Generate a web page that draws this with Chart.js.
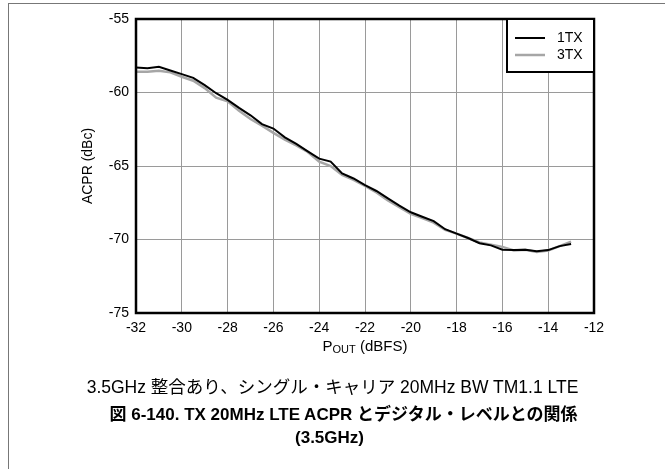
<!DOCTYPE html>
<html>
<head>
<meta charset="utf-8">
<script src="https://cdn.jsdelivr.net/npm/chart.js@4.4.1/dist/chart.umd.min.js"></script>
<style>
  html, body { margin: 0; padding: 0; background: #fff; }
  #wrap { position: relative; width: 665px; height: 469px; overflow: hidden; }
  #frame { position: absolute; left: 8px; top: 3px; width: 670px; height: 480px; border-left: 1.5px solid #777; border-top: 1.5px solid #777; }
  canvas { position: absolute; left: 0; top: 0; }
  .cap { position: absolute; left: 0; width: 665px; text-align: center; font-family: "Liberation Sans", Arial, "Noto Sans CJK JP", sans-serif; color: #000; }
  #c1 { top: 373px; font-size: 17.5px; }
  #c2 { top: 403px; left: 11px; font-size: 17px; font-weight: bold; line-height: 23px; }
  #c3 { top: 426px; left: -3px; font-size: 17px; font-weight: bold; line-height: 23px; }
</style>
</head>
<body>
<div id="wrap">
  <div id="frame"></div>
  <canvas id="cv" width="665" height="469"></canvas>
  <div class="cap" id="c1">3.5GHz 整合あり、シングル・キャリア 20MHz BW TM1.1 LTE</div>
  <div class="cap" id="c2">図 6-140. TX 20MHz LTE ACPR とデジタル・レベルとの関係</div>
  <div class="cap" id="c3">(3.5GHz)</div>
</div>
<script>
// P_OUT (dBFS) em passos de 0,5
const pout = [-32, -31.5, -31, -30.5, -30, -29.5, -29, -28.5, -28, -27.5, -27, -26.5, -26, -25.5, -25, -24.5, -24, -23.5, -23, -22.5,
  -22, -21.5, -21, -20.5, -20, -19.5, -19, -18.5, -18, -17.5, -17, -16.5, -16, -15.5, -15, -14.5, -14, -13.5, -13];
const acpr1tx = [-58.3, -58.35, -58.25, -58.5, -58.75, -59.0, -59.5, -60.05, -60.5, -61.05, -61.55, -62.15, -62.45, -63.05, -63.5, -64.0, -64.5, -64.7, -65.5, -65.85,
  -66.3, -66.7, -67.2, -67.7, -68.15, -68.45, -68.75, -69.3, -69.6, -69.9, -70.25, -70.4, -70.7, -70.72, -70.7, -70.8, -70.72, -70.45, -70.3];
const acpr3tx = [-58.58, -58.58, -58.52, -58.63, -58.93, -59.2, -59.7, -60.35, -60.6, -61.25, -61.8, -62.25, -62.75, -63.2, -63.6, -64.05, -64.7, -65.0, -65.6, -65.95,
  -66.35, -66.8, -67.35, -67.8, -68.25, -68.55, -68.85, -69.35, -69.6, -69.9, -70.2, -70.35, -70.5, -70.75, -70.7, -70.85, -70.75, -70.45, -70.15];
const serieNomes = ["1TX", "3TX"];
const xTicks = [-32, -30, -28, -26, -24, -22, -20, -18, -16, -14, -12];
const yTicks = [-75, -70, -65, -60, -55];

const FONTE = '"Liberation Sans", Arial, sans-serif';
const pts = (ys) => pout.map((x, i) => ({ x, y: ys[i] }));

// moldura, legenda e títulos dos eixos
const extras = {
  id: "extras",
  afterDraw(chart) {
    const { ctx, chartArea: a } = chart;
    ctx.save();
    ctx.strokeStyle = "#000";
    ctx.lineWidth = 2.5;
    ctx.strokeRect(a.left, a.top, a.right - a.left, a.bottom - a.top);

    // legenda
    const lw = 87, lh = 53, lx = a.right - lw, ly = a.top;
    ctx.fillStyle = "#fff";
    ctx.fillRect(lx, ly, lw, lh);
    ctx.lineWidth = 2;
    ctx.strokeRect(lx, ly, lw, lh);
    ctx.font = "14px " + FONTE;
    ctx.textBaseline = "middle";
    chart.data.datasets.forEach((ds, i) => {
      const yy = ly + 19 + i * 17;
      ctx.strokeStyle = ds.borderColor;
      ctx.lineWidth = ds.borderWidth;
      ctx.beginPath(); ctx.moveTo(lx + 8, yy); ctx.lineTo(lx + 38, yy); ctx.stroke();
      ctx.fillStyle = "#000";
      ctx.fillText(ds.label, lx + 50, yy);
    });

    // título eixo y
    ctx.fillStyle = "#000";
    ctx.font = "14px " + FONTE;
    ctx.textAlign = "center";
    ctx.save();
    ctx.translate(88, (a.top + a.bottom) / 2);
    ctx.rotate(-Math.PI / 2);
    ctx.fillText("ACPR (dBc)", 0, 0);
    ctx.restore();

    // título eixo x com subscrito
    const cx = (a.left + a.right) / 2, cy = 347;
    ctx.textAlign = "left";
    const p = "P", sub = "OUT", rest = " (dBFS)";
    ctx.font = "15px " + FONTE;
    const wp = ctx.measureText(p).width, wr = ctx.measureText(rest).width;
    ctx.font = "11px " + FONTE;
    const ws = ctx.measureText(sub).width;
    let x0 = cx - (wp + ws + wr) / 2;
    ctx.font = "15px " + FONTE;
    ctx.fillText(p, x0, cy);
    ctx.font = "11px " + FONTE;
    ctx.fillText(sub, x0 + wp, cy + 3);
    ctx.font = "15px " + FONTE;
    ctx.fillText(rest, x0 + wp + ws, cy);
    ctx.restore();
  },
};

new Chart(document.getElementById("cv"), {
  type: "line",
  data: {
    datasets: [
      { label: serieNomes[0], data: pts(acpr1tx), borderColor: "#000", borderWidth: 2, pointRadius: 0, tension: 0, order: 1 },
      { label: serieNomes[1], data: pts(acpr3tx), borderColor: "#a6a6a6", borderWidth: 2.5, pointRadius: 0, tension: 0, order: 2 },
    ],
  },
  options: {
    responsive: false, animation: false,
    layout: { padding: { left: 0, right: 71, top: 19, bottom: 0 } },
    plugins: { legend: { display: false }, tooltip: { enabled: false } },
    scales: {
      x: {
        type: "linear", min: -32, max: -12,
        afterBuildTicks: (s) => { s.ticks = xTicks.map((v) => ({ value: v })); },
        afterFit: (s) => { s.height = 156; },
        grid: { color: "#9a9a9a", lineWidth: 1, drawTicks: false },
        border: { display: false },
        ticks: { color: "#000", font: { size: 14, family: FONTE }, padding: 7, maxRotation: 0, autoSkip: false },
      },
      y: {
        type: "linear", min: -75, max: -55,
        afterBuildTicks: (s) => { s.ticks = yTicks.map((v) => ({ value: v })); },
        afterFit: (s) => { s.width = 136; },
        grid: { color: "#9a9a9a", lineWidth: 1, drawTicks: false },
        border: { display: false },
        ticks: { color: "#000", font: { size: 14, family: FONTE }, padding: 7 },
      },
    },
  },
  plugins: [extras],
});
</script>
</body>
</html>
